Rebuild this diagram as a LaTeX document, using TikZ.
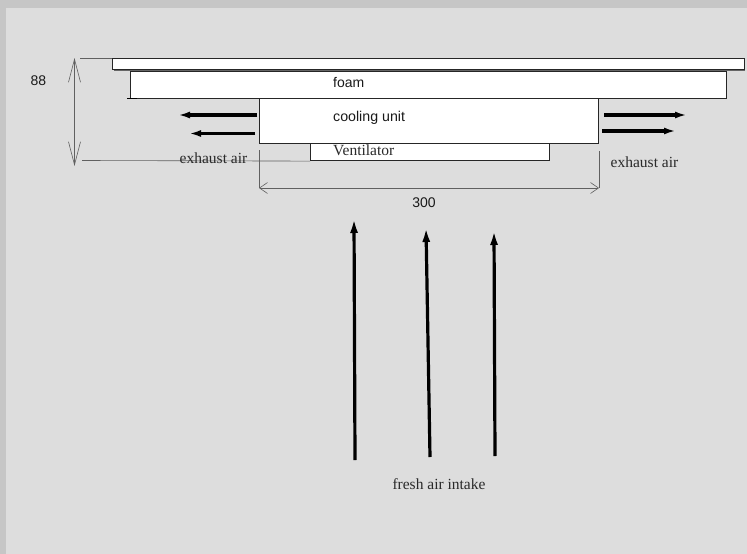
\documentclass[tikz,border=0pt]{standalone}
\usepackage{fontspec}
\setmainfont{Liberation Serif}
\newfontfamily\arialfont{Liberation Sans}
\usetikzlibrary{arrows.meta}
\definecolor{pagebg}{HTML}{DDDDDD}
\definecolor{outerbg}{HTML}{C6C6C6}
\definecolor{dimcol}{HTML}{606060}
\definecolor{inkcol}{HTML}{2A2A2A}
\tikzset{
  partbox/.style={draw=black!85,line width=1.1pt,fill=white,inner sep=0pt,anchor=north west},
  dimline/.style={draw=dimcol,line width=0.6pt},
  dimarrowv/.style={dimline,{Straight Barb[length=23pt,width=12pt,line width=0.6pt]}-{Straight Barb[length=23pt,width=12pt,line width=0.6pt]}},
  dimarrowh/.style={dimline,{Straight Barb[length=8pt,width=11pt,line width=0.6pt]}-{Straight Barb[length=8pt,width=11pt,line width=0.6pt]}},
  flowsmall/.style={draw=black,line width=3.2pt,-{Latex[length=12pt,width=7pt]}},
  flowbig/.style={draw=black,line width=3.2pt,-{Latex[length=15pt,width=8pt]}},
  serifl/.style={font=\fontsize{15.5}{16}\selectfont,text=inkcol,inner sep=0pt},
  sansl/.style={font=\arialfont\fontsize{14}{16}\selectfont,text=black!90,inner sep=0pt},
}
\begin{document}
\begin{tikzpicture}[x=1pt,y=-1pt]
\useasboundingbox (0,0) rectangle (747,554);
\fill[outerbg] (0,0) rectangle (747,554);
\fill[pagebg] (6,8) rectangle (747,554);
% parts
\fill[black!60] (114,60) rectangle (745,71);
\node[partbox,minimum width=632pt,minimum height=11pt] (plate) at (112,58) {};
\node[partbox,minimum width=596pt,minimum height=27pt] (foam) at (130,71) {};
\node[partbox,minimum width=239pt,minimum height=17pt] (vent) at (310,143) {};
\node[partbox,minimum width=339pt,minimum height=45pt] (cool) at (259,98) {};
\coordinate (tickl) at (127,98.5);
\coordinate (tickr) at (137,98.5);
\draw[black,line width=0.8pt] (tickl) -- (tickr);
% labels in parts
\node[sansl,anchor=west] (tfoam) at (333,82.5) {foam};
\node[sansl,anchor=west] (tcool) at (333,117.5) {\fontsize{14.2}{16}\selectfont cooling unit};
\node[serifl,anchor=west] (tvent) at (333,150) {Ventilator};
% dimension 88
\coordinate (d88a) at (74.5,58);
\coordinate (d88b) at (74.5,166);
\coordinate (e88a) at (80,58);
\coordinate (e88b) at (82,160.5);
\draw[dimarrowv] (d88a) -- (d88b);
\draw[dimline] (e88a) -- (plate.north west);
\draw[dimline] (e88b) -- (vent.south west);
\node[sansl,anchor=center] (t88) at (38.5,80.5) {88};
% dimension 300
\coordinate (d3a) at (259,188);
\coordinate (d3b) at (599,188);
\coordinate (e3a) at (259,150);
\coordinate (e3b) at (599,151);
\draw[dimarrowh] (d3a) -- (d3b);
\draw[dimline] (e3a) -- (d3a);
\draw[dimline] (e3b) -- (d3b);
\node[sansl,anchor=center] (t300) at (424,203) {300};
% exhaust
\coordinate (la1) at (257,115); \coordinate (la2) at (178,115);
\coordinate (lb1) at (255,133.5); \coordinate (lb2) at (189,133.5);
\coordinate (ra1) at (604,115); \coordinate (ra2) at (687,115);
\coordinate (rb1) at (602,131); \coordinate (rb2) at (676,131);
\draw[flowsmall] (la1) -- (la2);
\draw[flowsmall] (lb1) -- (lb2);
\draw[flowsmall] (ra1) -- (ra2);
\draw[flowsmall] (rb1) -- (rb2);
\node[serifl,anchor=center] (tel) at (213.5,158) {exhaust air};
\node[serifl,anchor=center] (ter) at (644.5,162.5) {exhaust air};
% intake
\coordinate (ia1) at (355,460); \coordinate (ia2) at (354,218);
\coordinate (ib1) at (430,457); \coordinate (ib2) at (426,227);
\coordinate (ic1) at (495,456); \coordinate (ic2) at (494,230);
\draw[flowbig] (ia1) -- (ia2);
\draw[flowbig] (ib1) -- (ib2);
\draw[flowbig] (ic1) -- (ic2);
\node[serifl,anchor=center] (tin) at (439,484) {fresh air intake};
\end{tikzpicture}
\end{document}
